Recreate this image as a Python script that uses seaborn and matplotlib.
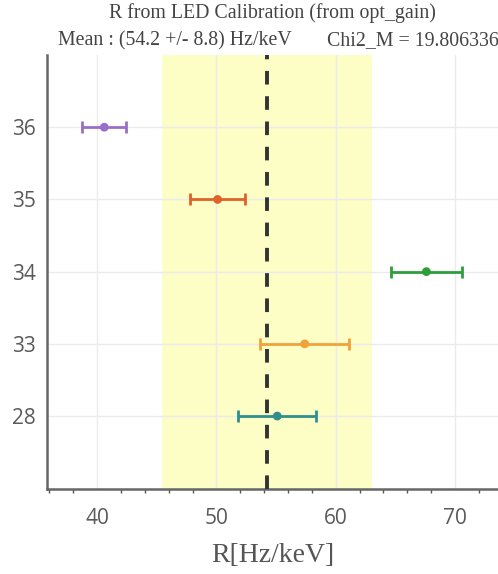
import matplotlib
matplotlib.use("Agg")
import matplotlib.pyplot as plt
import seaborn as sns
from matplotlib.ticker import MultipleLocator

# Datos
runs = ["28", "33", "34", "35", "36"]
r_values = [55.1, 57.4, 67.6, 50.1, 40.6]
r_errors = [3.25, 3.75, 3.0, 2.3, 1.85]
colors = ["#2f8f8c", "#f2a23a", "#2e9e3a", "#e0622a", "#9a6fcc"]

r_mean = 54.2
r_spread = 8.8
chi2_m = 19.806336

sns.set_theme(style="white")
plt.rcParams["font.family"] = ["Liberation Serif", "DejaVu Serif"]

fig = plt.figure(figsize=(4.98, 5.74), dpi=100)
ax = fig.add_axes([47 / 498, 1 - 489 / 574, 1 - 47 / 498, (489 - 55) / 574])

# Banda de la media +/- desviación
ax.axvspan(r_mean - r_spread, r_mean + r_spread, color="#fdfdc6", zorder=0.2, lw=0)

for run, val, err, col in zip(runs, r_values, r_errors, colors):
    ax.errorbar(val, run, xerr=err, fmt="none", ecolor=col, elinewidth=2,
                capsize=4, capthick=2, zorder=3)

sns.scatterplot(x=r_values, y=runs, hue=runs, palette=colors, s=40,
                edgecolor="none", legend=False, ax=ax, zorder=4)

ax.axvline(r_mean, color="#333333", lw=2.8, ls=(0, (3.5, 3)), zorder=5)

ax.set_xlim(35.8, 73.6)
ax.set_ylim(-1.01, 5.0)
ax.xaxis.set_major_locator(MultipleLocator(10))
ax.xaxis.set_minor_locator(MultipleLocator(2))

ax.grid(True, which="major", color="#ebebeb", lw=1)
ax.set_axisbelow(True)

for side in ["top", "right"]:
    ax.spines[side].set_visible(False)
for side in ["left", "bottom"]:
    ax.spines[side].set_color("#666666")
    ax.spines[side].set_linewidth(1.8)

ax.tick_params(axis="both", which="major", direction="out", length=5, width=1.5,
               color="#555555", labelcolor="#5a5a5a")
ax.tick_params(axis="x", which="minor", direction="out", length=3, width=1,
               color="#555555", bottom=True)
ax.tick_params(axis="y", labelsize=15, pad=3)
ax.tick_params(axis="x", labelsize=15, pad=9)
for lbl in ax.get_xticklabels() + ax.get_yticklabels():
    lbl.set_family(["Open Sans", "DejaVu Sans"])

ax.set_xlabel("R[Hz/keV]", fontsize=20, color="#555555", labelpad=10)
ax.set_ylabel("")

fig.text(272 / 498, 1 - 13 / 574, "R from LED Calibration (from opt_gain)",
         ha="center", va="center", fontsize=14.3, color="#444444")
fig.text(58 / 498, 1 - 41 / 574, f"Mean : ({r_mean} +/- {r_spread}) Hz/keV",
         ha="left", va="center", fontsize=14.3, color="#444444")
fig.text(327 / 498, 1 - 41 / 574, f"Chi2_M = {chi2_m}",
         ha="left", va="center", fontsize=14.3, color="#444444")

fig.savefig("out.png", dpi=100)
